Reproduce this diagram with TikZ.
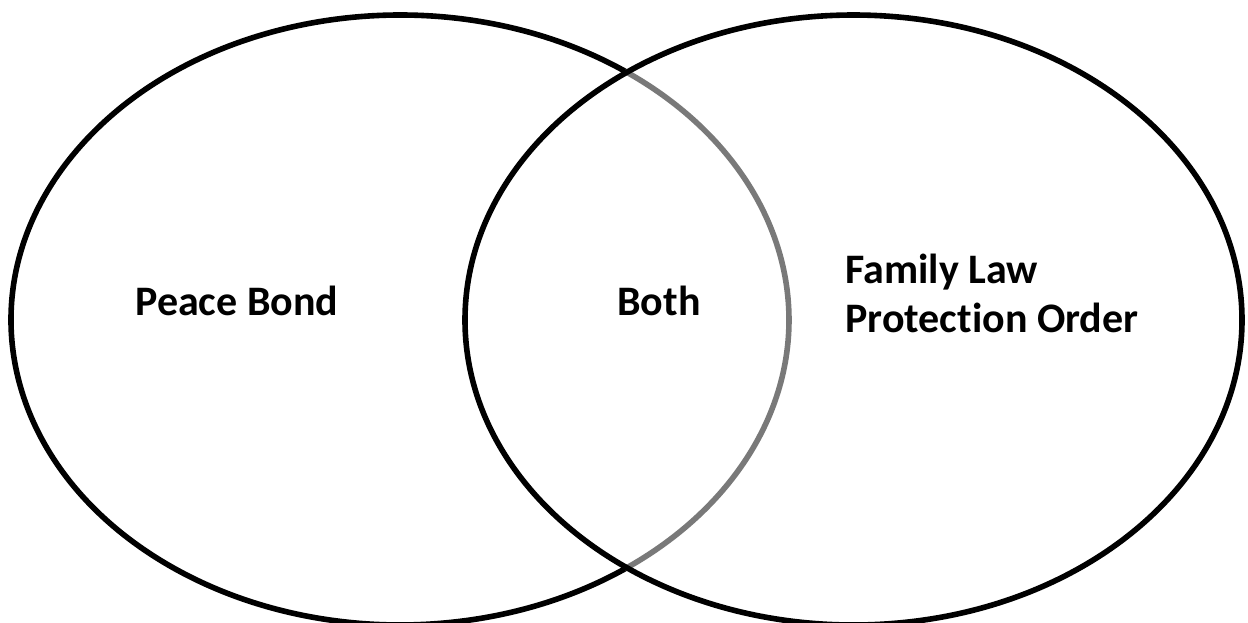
\documentclass[tikz,border=0pt]{standalone}
\usepackage{fontspec}
\setmainfont[Ligatures=NoCommon]{Carlito}
\usetikzlibrary{calc}
\begin{document}
\begin{tikzpicture}[x=0.5pt,y=-0.5pt,
  ring/.style={line width=2.8pt, draw=black},
  ringgray/.style={line width=2.8pt, draw=gray!95!black},
  label/.style={inner sep=0pt, anchor=base west, font=\fontsize{21pt}{25pt}\selectfont\bfseries}]
\useasboundingbox (0,0) rectangle (1248,622);
\coordinate (L) at (400,320);
\coordinate (R) at (853.5,320);
% gray part of the left circle (inside the right one)
\draw[ringgray] ($(L)+(-54.7:194.5pt and 152.5pt)$) arc[start angle=-54.7, end angle=54.7, x radius=194.5pt, y radius=152.5pt];
% right circle
\draw[ring] (R) ellipse[x radius=194.25pt, y radius=152.5pt];
% black part of the left circle
\draw[ring] ($(L)+(54.7:194.5pt and 152.5pt)$) arc[start angle=54.7, end angle=305.3, x radius=194.5pt, y radius=152.5pt];
\node[label] (pb) at (135,315) {Peace Bond};
\node[label] (both) at (617,315) {Both};
\node[label] (fl) at (845,283) {Family Law};
\node[label] (po) at (845,332) {Protection Order};
\end{tikzpicture}
\end{document}
